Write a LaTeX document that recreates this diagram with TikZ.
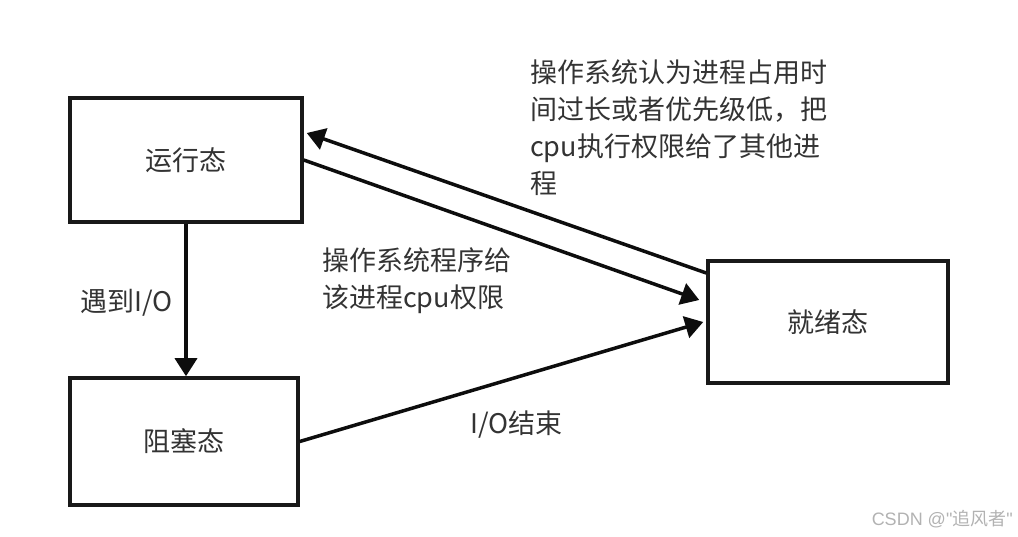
\documentclass[tikz,border=0pt]{standalone}
\usepackage{fontspec}
\setmainfont{Noto Sans CJK SC}
\newfontfamily\markfont{Liberation Sans}
\usetikzlibrary{arrows.meta,positioning}
\definecolor{textgray}{HTML}{333333}
\tikzset{
    state/.style={draw=black!90,line width=3.5pt,minimum height=124pt,text=textgray},
    arr/.style={-{Triangle[length=18pt,width=22pt]},line width=3.5pt,black!95},
    lbl/.style={text=textgray,align=left,inner sep=0pt},
}
\tikzstyle{every node}=[font=\fontsize{27}{37}\selectfont]

\begin{document}
\begin{tikzpicture}[x=1pt,y=-1pt]
    \useasboundingbox (0,0) rectangle (1018,537);
    % the three states
    \node[state,minimum width=232pt] (run) at (186,160) {运行态};
    \node[state,minimum width=228pt,minimum height=127pt] (block) at (184,441.5) {阻塞态};
    \node[state,minimum width=240pt,minimum height=122pt] (ready) at (828,322) {就绪态};
    % transitions
    \draw[arr] (run.south) -- (run.south |- block.north);
    \draw[arr] ([yshift=49pt]ready.west) -- ([yshift=27pt,xshift=3pt]run.east);
    \draw[arr] (run.east) -- ([yshift=22pt,xshift=-7pt]ready.west);
    \draw[arr] (block.east) -- ([xshift=-3pt]ready.west);
    % labels
    \node[lbl,anchor=west] (txtio) at (80,303) {遇到I/O};
    \node[lbl,anchor=west] (txtgive) at (322,281) {操作系统程序给\\该进程cpu权限};
    \node[lbl,anchor=west] (txttake) at (530,128) {操作系统认为进程占用时\\间过长或者优先级低，把\\cpu执行权限给了其他进\\程};
    \node[lbl,anchor=west] (txtend) at (470,425) {I/O结束};
    \node[lbl,anchor=east,text=black!30,font=\fontsize{18}{20}\selectfont] (mark) at (1013,519) {{\markfont CSDN @\symbol{34}}追风者{\markfont\symbol{34}}};
\end{tikzpicture}
\end{document}
